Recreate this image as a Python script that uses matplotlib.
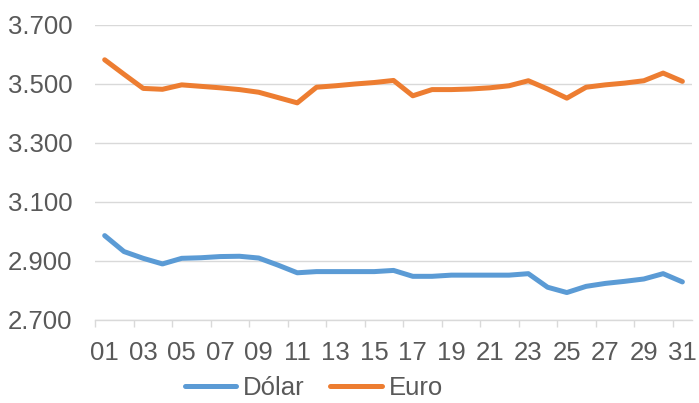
import matplotlib
matplotlib.use("Agg")
import matplotlib.pyplot as plt
from matplotlib.ticker import FuncFormatter, FixedLocator

# dias do mês e cotações
dias = list(range(1, 32))
dolar = [2986, 2932, 2909, 2890, 2909, 2911, 2915, 2916, 2910, 2886,
         2860, 2864, 2864, 2864, 2864, 2868, 2848, 2848, 2852, 2852,
         2852, 2852, 2857, 2811, 2793, 2814, 2824, 2831, 2839, 2857, 2829]
euro = [3582, 3533, 3485, 3482, 3497, 3492, 3487, 3481, 3472, 3454,
        3436, 3489, 3494, 3500, 3505, 3512, 3460, 3481, 3481, 3483,
        3487, 3494, 3511, 3483, 3452, 3489, 3497, 3503, 3511, 3537, 3509]
rotulos_x = [f"{d:02d}" for d in dias[::2]]
ticks_y = [2700, 2900, 3100, 3300, 3500, 3700]

AZUL = "#5B9BD5"
LARANJA = "#ED7D31"
CINZA_TXT = "#595959"
CINZA_GRADE = "#D9D9D9"
TAM = 18.5

plt.rcParams['font.family'] = ['Liberation Sans', 'DejaVu Sans']

fig = plt.figure(figsize=(6.99, 4.03), dpi=100)
ax = fig.add_axes([0.136, 0.206, 0.854, 0.732])

ax.plot(dias, dolar, color=AZUL, lw=3.6, solid_capstyle='round', label="Dólar")
ax.plot(dias, euro, color=LARANJA, lw=3.6, solid_capstyle='round', label="Euro")

ax.set_xlim(0.5, 31.5)
ax.set_ylim(2700, 3700)

ax.set_yticks(ticks_y)
ax.yaxis.set_major_formatter(FuncFormatter(lambda v, p: f"{int(v):,}".replace(",", ".")))
ax.grid(axis='y', color=CINZA_GRADE, lw=1.0)
ax.set_axisbelow(True)

# rótulos nos dias ímpares, marcas entre categorias
ax.set_xticks(dias[::2])
ax.set_xticklabels(rotulos_x)
ax.xaxis.set_minor_locator(FixedLocator([d - 0.5 for d in dias[::2]]))
ax.tick_params(axis='x', which='major', length=0, pad=15, labelsize=TAM, labelcolor=CINZA_TXT)
ax.tick_params(axis='x', which='minor', length=5, width=1.0, color=CINZA_GRADE)
ax.tick_params(axis='y', length=0, pad=16.5, labelsize=TAM, labelcolor=CINZA_TXT)

for lado in ['top', 'right', 'left']:
    ax.spines[lado].set_visible(False)
ax.spines['bottom'].set_color(CINZA_GRADE)
ax.spines['bottom'].set_linewidth(1.0)

fig.legend(loc='center', bbox_to_anchor=(0.449, 0.036), ncol=2, frameon=False,
           fontsize=TAM, labelcolor=CINZA_TXT, handlelength=2.0, handletextpad=0.27,
           columnspacing=1.0, borderpad=0)

fig.savefig("out.png", dpi=100)
